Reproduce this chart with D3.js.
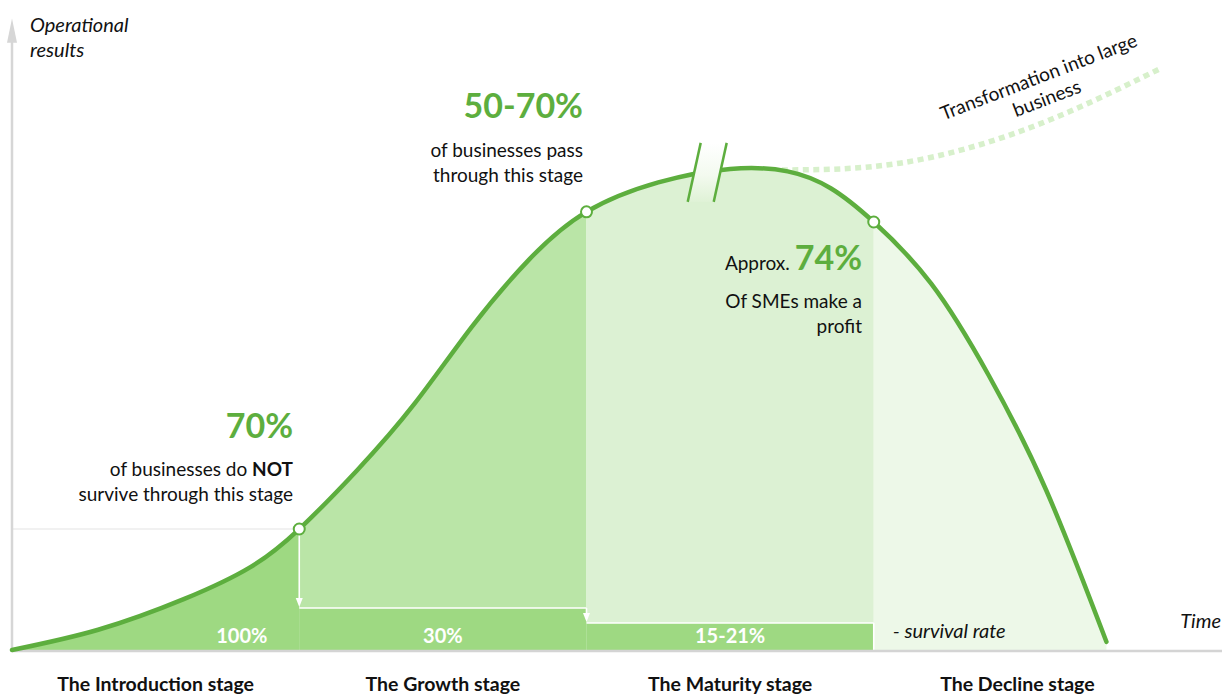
<!DOCTYPE html>
<html>
<head>
<meta charset="utf-8">
<script src="https://cdn.jsdelivr.net/npm/d3@7"></script>
<style>
  body { margin: 0; background: #fff; }
  svg { display: block; font-family: Lato, "Open Sans", sans-serif; }
</style>
</head>
<body>
<svg width="1222" height="697"></svg>
<script>
// stages of the business life cycle (x in stage units, 1 unit = 1 stage)
var stages = ["The Introduction stage", "The Growth stage", "The Maturity stage", "The Decline stage"];

// operational results curve (peak = 100)
var curveT = [0, 0.3, 0.6, 0.83, 1.0, 1.2, 1.4, 1.6, 1.8, 2.0, 2.25, 2.5, 2.7, 2.85, 3.0, 3.2, 3.4, 3.6, 3.81];
var curveV = [0, 4.2, 10.6, 17.2, 25.1, 37.2, 51.0, 67.0, 81.0, 90.9, 97.0, 99.8, 99.3, 95.8, 88.8, 76.0, 57.0, 33.2, 1.7];

// stage boundaries marked on the curve
var nodeT = [1, 2, 3];
var nodeV = [25.1, 90.9, 88.8];

// survival-rate bars
var survivalLabels = ["100%", "30%", "15-21%"];
var survivalLabelT = [0.8, 1.5, 2.5];
var survivalLevel = [25.1, 8.7, 5.6];

// dotted path: transformation into a large business
var dottedT = [2.68, 3.09, 3.55, 4.0];
var dottedV = [99.6, 101.0, 108.5, 120.7];

var green = "#5dae3e";
var stageFill = ["#9ed982", "#bae5a7", "#dcf1d3", "#edf8e8"];

var svg = d3.select("svg");
var x = d3.scaleLinear().domain([0, 4]).range([12, 1161]);
var y = d3.scaleLinear().domain([0, 100]).range([650, 168]);

var pts = curveT.map(function (t, i) { return [t, curveV[i]]; });

var defs = svg.append("defs");
stages.forEach(function (s, i) {
    defs.append("clipPath").attr("id", "clip" + i)
        .append("rect")
        .attr("x", x(i)).attr("y", 0)
        .attr("width", x(i + 1) - x(i)).attr("height", y(0));
});
var grad = defs.append("linearGradient").attr("id", "gapGrad")
    .attr("x1", 0).attr("y1", 0).attr("x2", 0).attr("y2", 1);
grad.append("stop").attr("offset", "0%").attr("stop-color", "#ffffff");
grad.append("stop").attr("offset", "55%").attr("stop-color", "#f3faef");
grad.append("stop").attr("offset", "100%").attr("stop-color", "#dff2d6");

// gridline at the end of the introduction stage
svg.append("line")
    .attr("x1", x(0)).attr("x2", x(1))
    .attr("y1", y(nodeV[0])).attr("y2", y(nodeV[0]))
    .attr("stroke", "#ececec").attr("stroke-width", 1.5);

// stage areas
var area = d3.area()
    .x(function (d) { return x(d[0]); })
    .y0(y(0))
    .y1(function (d) { return y(d[1]); })
    .curve(d3.curveNatural);

svg.append("g").selectAll("path")
    .data(stages)
    .enter().append("path")
    .attr("d", area(pts))
    .attr("clip-path", function (d, i) { return "url(#clip" + i + ")"; })
    .attr("fill", function (d, i) { return stageFill[i]; });

// survival bars (growth and maturity)
svg.append("g").selectAll("rect")
    .data([1, 2])
    .enter().append("rect")
    .attr("x", function (i) { return x(i); })
    .attr("width", function (i) { return x(i + 1) - x(i); })
    .attr("y", function (i) { return y(survivalLevel[i]); })
    .attr("height", function (i) { return y(0) - y(survivalLevel[i]); })
    .attr("fill", stageFill[0]);

// white step lines with arrows
var wl = svg.append("g").attr("stroke", "#fff").attr("stroke-width", 1.6).attr("fill", "none");
[1, 2].forEach(function (i) {
    var yTop = y(survivalLevel[i - 1]), yEnd = y(survivalLevel[i]) - 1;
    wl.append("line")
        .attr("x1", x(i)).attr("x2", x(i))
        .attr("y1", yTop).attr("y2", yEnd - 6);
    svg.append("path")
        .attr("d", "M" + (x(i) - 3.5) + "," + (yEnd - 9) + " L" + x(i) + "," + yEnd + " L" + (x(i) + 3.5) + "," + (yEnd - 9) + " Z")
        .attr("fill", "#fff");
    wl.append("line")
        .attr("x1", x(i)).attr("x2", x(i + 1))
        .attr("y1", y(survivalLevel[i])).attr("y2", y(survivalLevel[i]));
});
wl.append("line")
    .attr("x1", x(3)).attr("x2", x(3))
    .attr("y1", y(survivalLevel[2])).attr("y2", y(0));

// axes
svg.append("line")
    .attr("x1", x(0)).attr("x2", 1222)
    .attr("y1", y(0) + 1).attr("y2", y(0) + 1)
    .attr("stroke", "#d4d4d4").attr("stroke-width", 2.5);
svg.append("line")
    .attr("x1", x(0)).attr("x2", x(0))
    .attr("y1", y(0) + 2).attr("y2", y(129))
    .attr("stroke", "#d6d6d6").attr("stroke-width", 2.5);
svg.append("path")
    .attr("d", "M" + (x(0) - 5) + "," + y(126) + " L" + x(0) + "," + y(131) + " L" + (x(0) + 5) + "," + y(126) + " Z")
    .attr("fill", "#d6d6d6");

// dotted continuation
var line = d3.line()
    .x(function (d) { return x(d[0]); })
    .y(function (d) { return y(d[1]); })
    .curve(d3.curveNatural);

svg.append("path")
    .attr("d", line(dottedT.map(function (t, i) { return [t, dottedV[i]]; })))
    .attr("fill", "none")
    .attr("stroke", "#d7f0cb")
    .attr("stroke-width", 5.5)
    .attr("stroke-dasharray", "6 4.5");

// main curve
svg.append("path")
    .attr("d", line(pts))
    .attr("fill", "none")
    .attr("stroke", green)
    .attr("stroke-width", 4.5)
    .attr("stroke-linecap", "round");

// break marks on the maturity stage
var bx = x(2.415), by = y(99.4);
svg.append("path")
    .attr("d", "M" + (bx - 5) + "," + (by - 28) + " L" + (bx + 21) + "," + (by - 28) +
        " L" + (bx + 8) + "," + (by + 31) + " L" + (bx - 18) + "," + (by + 31) + " Z")
    .attr("fill", "url(#gapGrad)");
[[-5, -18], [21, 8]].forEach(function (o) {
    svg.append("line")
        .attr("x1", bx + o[0]).attr("y1", by - 28)
        .attr("x2", bx + o[1]).attr("y2", by + 31)
        .attr("stroke", green).attr("stroke-width", 2.5);
});

// nodes
svg.append("g").selectAll("circle")
    .data(nodeT)
    .enter().append("circle")
    .attr("cx", function (d) { return x(d); })
    .attr("cy", function (d, i) { return y(nodeV[i]); })
    .attr("r", 5.5)
    .attr("fill", "#fff")
    .attr("stroke", green)
    .attr("stroke-width", 2);

// survival labels
svg.append("g").selectAll("text")
    .data(survivalLabels)
    .enter().append("text")
    .attr("x", function (d, i) { return x(survivalLabelT[i]); })
    .attr("y", y(0) - 7)
    .attr("text-anchor", "middle")
    .attr("fill", "#fff")
    .attr("font-weight", "bold")
    .attr("font-size", 20)
    .text(function (d) { return d; });

svg.append("text")
    .attr("x", x(3) + 19).attr("y", y(0) - 12)
    .attr("font-style", "italic").attr("font-size", 20).attr("fill", "#111")
    .text("- survival rate");

// stage labels
svg.append("g").selectAll("text")
    .data(stages)
    .enter().append("text")
    .attr("x", function (d, i) { return x(i + 0.5); })
    .attr("y", 691)
    .attr("text-anchor", "middle")
    .attr("font-weight", "bold")
    .attr("font-size", 19.5)
    .attr("fill", "#111")
    .text(function (d) { return d; });

// axis titles
var yt = svg.append("text").attr("font-style", "italic").attr("font-size", 20).attr("fill", "#111");
yt.append("tspan").attr("x", 30).attr("y", 32).text("Operational");
yt.append("tspan").attr("x", 30).attr("y", 57).text("results");
svg.append("text")
    .attr("x", 1221).attr("y", 628).attr("text-anchor", "end")
    .attr("font-style", "italic").attr("font-size", 20).attr("fill", "#111")
    .text("Time");

// annotations
function annotate(xr, bigY, big, lines, lineY, prefix) {
    var t = svg.append("text").attr("x", xr).attr("y", bigY).attr("text-anchor", "end");
    if (prefix) t.append("tspan").attr("font-size", 19).attr("fill", "#111").text(prefix + " ");
    t.append("tspan").attr("font-size", 34).attr("font-weight", "bold").attr("fill", green).text(big);
    var b = svg.append("text").attr("text-anchor", "end").attr("font-size", 19).attr("fill", "#111");
    lines.forEach(function (l, i) {
        var ts = b.append("tspan").attr("x", xr).attr("y", lineY + i * 25);
        l.forEach(function (p) {
            ts.append("tspan").attr("font-weight", p[1] ? "bold" : "normal").text(p[0]);
        });
    });
}
annotate(293, 438, "70%", [[["of businesses do ", 0], ["NOT", 1]], [["survive through this stage", 0]]], 476);
annotate(583, 118, "50-70%", [[["of businesses pass", 0]], [["through this stage", 0]]], 157);
annotate(862, 270, "74%", [[["Of SMEs make a", 0]], [["profit", 0]]], 308, "Approx.");

var tr = svg.append("g").attr("transform", "translate(1041,83) rotate(-21)")
    .attr("font-size", 19).attr("fill", "#111").attr("text-anchor", "middle");
tr.append("text").attr("x", 0).attr("y", 0).text("Transformation into large");
tr.append("text").attr("x", 0).attr("y", 23).text("business");
</script>
</body>
</html>
